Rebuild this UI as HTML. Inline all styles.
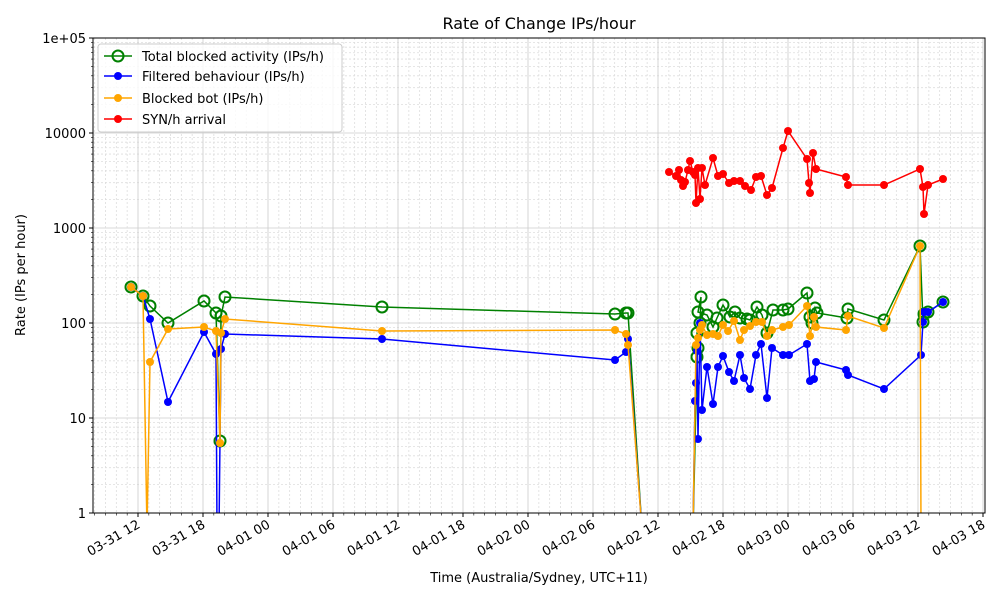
<!DOCTYPE html>
<html><head><meta charset="utf-8"><style>
html,body{margin:0;background:#fff;width:1000px;height:600px;overflow:hidden}
svg{display:block;font-family:"DejaVu Sans","Liberation Sans",sans-serif}
</style></head><body>
<svg id="s" width="1000" height="600" xmlns="http://www.w3.org/2000/svg">
<defs><clipPath id="cp"><rect x="93" y="38" width="892" height="475"/></clipPath></defs>
<rect width="1000" height="600" fill="#fff"/>
<g id="grid"></g>
<g id="series" clip-path="url(#cp)"></g>
<rect x="93" y="38" width="892" height="475" fill="none" stroke="#000" stroke-width="1"/>
<g id="ticks"></g>
<text x="539" y="29" font-size="16" text-anchor="middle">Rate of Change IPs/hour</text>
<text x="539" y="582" font-size="13" text-anchor="middle">Time (Australia/Sydney, UTC+11)</text>
<text transform="translate(25,275) rotate(-90)" font-size="13" text-anchor="middle">Rate (IPs per hour)</text>
<g>
<rect x="98" y="44" width="244" height="88" fill="#fff" fill-opacity="0.8" stroke="#ccc" rx="3"/>
<line x1="104" y1="56" x2="132" y2="56" stroke="green" stroke-width="1.5"/><circle cx="118" cy="56" r="5.5" fill="none" stroke="green" stroke-width="2"/>
<text x="142" y="61" font-size="13">Total blocked activity (IPs/h)</text>
<line x1="104" y1="76" x2="132" y2="76" stroke="blue" stroke-width="1.5"/><circle cx="118" cy="76" r="4" fill="blue"/>
<text x="142" y="81" font-size="13">Filtered behaviour (IPs/h)</text>
<line x1="104" y1="98" x2="132" y2="98" stroke="orange" stroke-width="1.5"/><circle cx="118" cy="98" r="4" fill="orange"/>
<text x="142" y="103" font-size="13">Blocked bot (IPs/h)</text>
<line x1="104" y1="119" x2="132" y2="119" stroke="red" stroke-width="1.5"/><circle cx="118" cy="119" r="4" fill="red"/>
<text x="142" y="124" font-size="13">SYN/h arrival</text>
</g>
</svg>
<script>
const NS="http://www.w3.org/2000/svg";
function el(p,t,a,txt){const e=document.createElementNS(NS,t);for(const k in a)e.setAttribute(k,a[k]);if(txt!==undefined)e.textContent=txt;p.appendChild(e);return e;}
const grid=document.getElementById('grid'),ticks=document.getElementById('ticks'),ser=document.getElementById('series');
function Y(v){return 513-95*Math.log10(v);}
for(let d=0;d<5;d++){for(let m=2;m<10;m++){const y=Y(m*Math.pow(10,d));el(grid,'line',{x1:93,x2:985,y1:y,y2:y,stroke:'#ddd','stroke-width':0.8,'stroke-dasharray':'2,2'});el(ticks,'line',{x1:91,x2:93,y1:y,y2:y,stroke:'#000','stroke-width':0.6});}}
const ylab=['1','10','100','1000','10000','1e+05'];
for(let d=0;d<=5;d++){const y=Y(Math.pow(10,d));el(grid,'line',{x1:93,x2:985,y1:y,y2:y,stroke:'#ccc','stroke-width':0.8});el(ticks,'line',{x1:89,x2:93,y1:y,y2:y,stroke:'#000'});el(ticks,'text',{x:86,y:y+5,'font-size':13,'text-anchor':'end'},ylab[d]);}
const hx=65/6;
for(let h=-4;h<=78;h++){const x=138+h*hx;if(x<93||x>985.5)continue;
 if(h%6===0){el(grid,'line',{x1:x,x2:x,y1:38,y2:513,stroke:'#ccc','stroke-width':0.8});el(ticks,'line',{x1:x,x2:x,y1:513,y2:517,stroke:'#000'});}
 else{el(grid,'line',{x1:x,x2:x,y1:38,y2:513,stroke:'#ddd','stroke-width':0.8,'stroke-dasharray':'2,2'});el(ticks,'line',{x1:x,x2:x,y1:513,y2:515.5,stroke:'#000','stroke-width':0.6});}}
const xl=['03-31 12','03-31 18','04-01 00','04-01 06','04-01 12','04-01 18','04-02 00','04-02 06','04-02 12','04-02 18','04-03 00','04-03 06','04-03 12','04-03 18'];
xl.forEach((t,i)=>{const x=138+i*65;el(ticks,'text',{transform:`translate(${x+3},${527}) rotate(-30)`,'font-size':13,'text-anchor':'end'},t);});
function line(pts,col,opts){const P=pts.map(p=>p[0]+','+(p[1]>=513?530:p[1])).join(' ');el(ser,'polyline',{points:P,fill:'none',stroke:col,'stroke-width':1.5});
 pts.forEach(p=>{if(p[1]>=513)return;if(opts)el(ser,'circle',{cx:p[0],cy:p[1],r:5.5,fill:'none',stroke:col,'stroke-width':2});else el(ser,'circle',{cx:p[0],cy:p[1],r:4,fill:col});});}
const orange=[[131,287],[143,296],[147,520],[150,362],[168,329],[204,327],[216,331],[220,443],[221,333],[225,319],[382,331],[615,330],[626,334],[628,345],[642,520],[693,520],[696,345],[698,338],[700,330],[702,325],[707,335],[713,334],[718,336],[723,325],[728,331],[734,321],[740,340],[744,330],[750,326],[756,322],[762,322],[767,336],[772,330],[783,327],[789,325],[807,306],[810,336],[814,317],[816,327],[846,330],[848,316],[884,328],[920,246],[921,520]];
const green=[[131,287],[143,296],[150,306],[168,323],[204,301],[216,313],[220,441],[221,316],[225,297],[382,307],[615,314],[626,313],[628,313],[642,520],[693,520],[697,357],[698,348],[697,333],[700,323],[701,297],[698,312],[707,315],[713,327],[717,318],[723,305],[730,317],[735,312],[740,318],[747,319],[750,320],[757,307],[762,315],[767,333],[773,310],[783,310],[788,309],[807,293],[810,317],[812,323],[815,308],[817,313],[847,318],[848,309],[884,320],[920,246],[923,322],[924,314],[928,312],[943,302]];
const blue=[[131,287],[143,296],[150,319],[168,402],[204,332],[216,354],[217,520],[219,520],[221,349],[225,334],[382,339],[615,360],[626,352],[628,339],[642,520],[693,520],[695,401],[696,383],[697,351],[698,439],[700,323],[702,410],[707,367],[713,404],[718,367],[723,356],[729,372],[734,381],[740,355],[744,378],[750,389],[756,355],[761,344],[767,398],[772,348],[783,355],[789,355],[807,344],[810,381],[814,379],[816,362],[846,370],[848,375],[884,389],[921,355],[923,322],[924,312],[928,312],[943,302]];
const red=[[669,172],[676,176],[679,170],[681,180],[683,186],[685,182],[688,170],[690,161],[693,172],[695,175],[696,203],[698,168],[700,199],[702,168],[705,185],[713,158],[718,176],[723,174],[729,183],[734,181],[740,181],[745,186],[751,190],[756,177],[761,176],[767,195],[772,188],[783,148],[788,131],[807,159],[809,183],[810,193],[813,153],[816,169],[846,177],[848,185],[884,185],[920,169],[923,187],[924,214],[928,185],[943,179]];
line(green,'green',true);line(blue,'blue');line(orange,'orange');line(red,'red');
</script>
</body></html>
